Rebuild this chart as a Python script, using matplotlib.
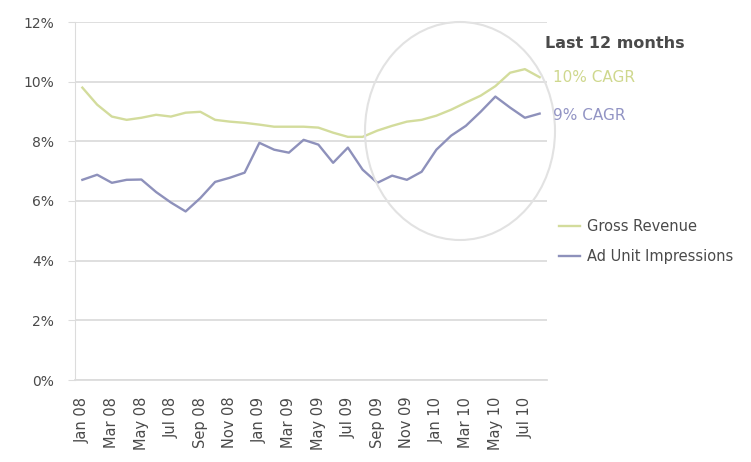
import matplotlib
matplotlib.use("Agg")
import matplotlib.pyplot as plt
from matplotlib.patches import Ellipse

months = ["Jan 08", "Feb 08", "Mar 08", "Apr 08", "May 08", "Jun 08", "Jul 08", "Aug 08",
          "Sep 08", "Oct 08", "Nov 08", "Dec 08", "Jan 09", "Feb 09", "Mar 09", "Apr 09",
          "May 09", "Jun 09", "Jul 09", "Aug 09", "Sep 09", "Oct 09", "Nov 09", "Dec 09",
          "Jan 10", "Feb 10", "Mar 10", "Apr 10", "May 10", "Jun 10", "Jul 10", "Aug 10"]

gross_revenue = [9.8, 9.23, 8.83, 8.72, 8.79, 8.89, 8.83, 8.96,
                 8.99, 8.72, 8.66, 8.62, 8.56, 8.49, 8.49, 8.49,
                 8.46, 8.29, 8.15, 8.15, 8.36, 8.52, 8.66, 8.72,
                 8.86, 9.06, 9.3, 9.53, 9.85, 10.3, 10.42, 10.15]

ad_impressions = [6.71, 6.88, 6.61, 6.71, 6.72, 6.3, 5.95, 5.65,
                  6.1, 6.64, 6.78, 6.95, 7.95, 7.72, 7.62, 8.05,
                  7.89, 7.28, 7.79, 7.05, 6.61, 6.85, 6.71, 6.98,
                  7.72, 8.19, 8.52, 8.99, 9.5, 9.13, 8.79, 8.93]

yticks = [0, 2, 4, 6, 8, 10, 12]
ytick_labels = ["0%", "2%", "4%", "6%", "8%", "10%", "12%"]

green = "#d3dc9c"
blue = "#8e91bb"
grid = "#dcdcdc"
txt = "#4a4a4a"

fig = plt.figure(figsize=(7.51, 4.62), dpi=100)
ax = fig.add_axes([75 / 751, 1 - 380 / 462, (547 - 75) / 751, (380 - 22) / 462])

x = list(range(len(months)))
ax.plot(x, gross_revenue, color=green, lw=1.7, label="Gross Revenue")
ax.plot(x, ad_impressions, color=blue, lw=1.7, label="Ad Unit Impressions")

ax.set_xlim(-0.5, len(months) - 0.5)
ax.set_ylim(0, 12)
ax.set_yticks(yticks)
ax.set_yticklabels(ytick_labels, color=txt, fontsize=10)
ax.set_xticks(x[::2])
ax.set_xticklabels(months[::2], rotation=90, color=txt, fontsize=10.5)
ax.yaxis.grid(True, color=grid, lw=1.3)
ax.set_axisbelow(True)
for s in ["top", "right"]:
    ax.spines[s].set_visible(False)
ax.spines["left"].set_color(grid)
ax.spines["bottom"].set_color(grid)
ax.spines["bottom"].set_linewidth(1.3)
ax.tick_params(axis="y", length=5, color=grid, pad=10)
ax.tick_params(axis="x", length=0, pad=12)

ell = Ellipse((460 / 751, 1 - 131 / 462), 190 / 751, 218 / 462,
              transform=fig.transFigure, fill=False, edgecolor="#e2e2e2", lw=1.5)
fig.patches.append(ell)

fig.text(545 / 751, 1 - 43 / 462, "Last 12 months", fontsize=11.5, fontweight="bold",
         color="#4a4a4a", va="center", ha="left")
fig.text(553 / 751, 1 - 77 / 462, "10% CAGR", fontsize=11, color="#cfd88e",
         va="center", ha="left")
fig.text(553 / 751, 1 - 116 / 462, "9% CAGR", fontsize=11, color="#9294c4",
         va="center", ha="left")

fig.legend(loc="upper left", bbox_to_anchor=(546 / 751, 1 - 206 / 462), frameon=False,
           fontsize=10.5, handlelength=1.4, labelspacing=1.05, handletextpad=0.5,
           labelcolor=txt)

fig.savefig("out.png", dpi=100)
